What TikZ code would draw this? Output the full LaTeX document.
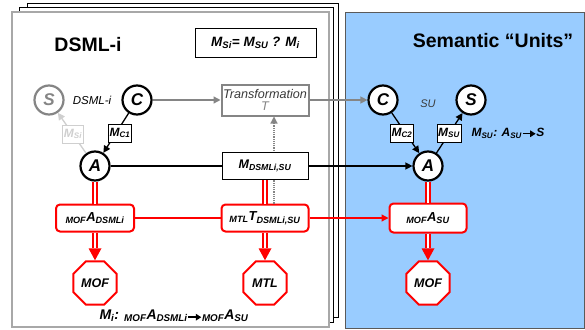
\documentclass[tikz,border=0pt]{standalone}
\usepackage{fontspec}
\setmainfont{Liberation Sans}
\usetikzlibrary{shapes.geometric,arrows.meta,calc}
\newcommand\sbx[1]{\textsubscript{#1}}
\newcommand\fs[1]{\fontsize{#1}{#1}\selectfont}
\newcommand\barrow{\tikz[baseline={(0,-2.5pt)}]\draw[line width=1.4pt,-{Triangle[length=5.5pt,width=6.5pt]}] (0,0) -- (13pt,0);}
\definecolor{pageg}{HTML}{A8A8A8}
\definecolor{arrg}{HTML}{858585}
\definecolor{lightg}{HTML}{CFCFCF}
\definecolor{bluef}{HTML}{99CCFF}
\definecolor{bluee}{HTML}{5A5A5A}
\definecolor{transtxt}{HTML}{3A3A3A}
\begin{document}
\begin{tikzpicture}[x=1pt,y=-1pt,
  circ/.style={circle, draw=black, line width=2.2pt, fill=white, minimum size=29pt, inner sep=0pt, font=\fs{17}\bfseries\itshape},
  gcirc/.style={circ, draw=arrg, text=arrg},
  mbox/.style={draw=black, line width=0.8pt, fill=white, inner sep=1.2pt, minimum height=18pt, font=\fs{12}\bfseries\itshape},
  redbox/.style={draw=red, line width=2pt, rounded corners=4pt, fill=white, minimum height=27pt, font=\fs{13}\bfseries\itshape},
  octo/.style={regular polygon, regular polygon sides=8, draw=red, line width=2pt, fill=white, minimum size=47pt, inner sep=0pt, font=\fs{12.5}\bfseries\itshape},
  tip/.style={-{Triangle[length=7pt,width=7pt]}},
  blk/.style={black, line width=1.3pt},
  gry/.style={arrg, line width=1.3pt},
  dbl/.style={draw=red, double=white, line width=1.8pt, double distance=1.6pt},
  redthick/.style={red, line width=5.2pt, -{Triangle[length=12pt,width=13pt,line width=0pt]}},
  redinner/.style={white, line width=1.6pt, shorten >=12.5pt},
  lbl/.style={font=\fs{12}\bfseries\itshape}
]
\useasboundingbox (0,0) rectangle (585,329);
% pages
\draw[black, line width=0.8pt, fill=white] (27,3) rectangle (338,317);
\draw[black, line width=0.8pt, fill=white] (19,7) rectangle (333,322);
\draw[pageg, line width=1.5pt, fill=white] (12,12) rectangle (329,327);
\draw[bluee, line width=1pt, fill=bluef] (345,13) rectangle (584.5,328);
% titles
\node[font=\fs{19.5}\bfseries] (t1) at (88,45) {DSML-i};
\node[font=\fs{19.5}\bfseries] (t2) at (493,41) {Semantic “Units”};
\node[draw, line width=0.9pt, minimum width=121pt, minimum height=29pt, font=\fs{13.5}\bfseries\itshape] (f) at (255.5,43) {M\sbx{Si}= M\sbx{SU} ? M\sbx{i}};
% left circles
\node[gcirc] (S1) at (49,100) {S};
\node[font=\fs{11.5}\itshape] (dl) at (92,100) {DSML-i};
\node[circ] (C1) at (137,100) {C};
\node[circ] (A1) at (95,166) {A};
% right circles
\node[circ] (C2) at (383,100) {C};
\node[circ] (S2) at (471,100) {S};
\node[font=\fs{11}\itshape, text=transtxt] (su) at (428,104) {SU};
\node[circ] (A2) at (428,166) {A};
% transformation
\node[draw=arrg, line width=2pt, fill=white, minimum width=87pt, minimum height=31pt, inner sep=0pt, align=center, font=\fs{12.6}\itshape, text=transtxt] (T) at (265,100) {Transformation\\[-1pt]\textcolor{arrg}{T}};
% red boxes
\node[redbox, minimum width=78pt] (R1) at (95,218) {\sbx{MOF}A\sbx{DSMLi}};
\node[redbox, minimum width=87pt] (R2) at (265,218) {\sbx{MTL}T\sbx{DSMLi,SU}};
\node[redbox, minimum width=77pt, minimum height=29pt] (R3) at (428,218) {\sbx{MOF}A\sbx{SU}};
% octagons
\node[octo] (O1) at (95,283) {MOF};
\node[octo] (O2) at (265,283) {MTL};
\node[octo] (O3) at (428,283) {MOF};
% dotted arrow (behind M box)
\draw[arrg, line width=1.2pt, densely dotted, -{Triangle[length=7pt,width=7pt]}] ([xshift=9pt]R2.north) -- ([xshift=9pt]T.south);
% M box
\node[draw=black, line width=0.8pt, fill=white, minimum width=86pt, minimum height=27pt, font=\fs{12.5}\bfseries\itshape] (M) at (265,166) {M\sbx{DSMLi,SU}};
% gray arrows
\draw[gry, tip] (C1) -- (T);
\draw[gry, tip] (T) -- (C2);
% left diagonal arrows
\draw[lightg, line width=1.3pt, tip] (A1) -- (S1);
\node[draw=lightg, line width=0.8pt, fill=white, inner sep=1.2pt, minimum height=18pt, text=lightg, font=\fs{12}\bfseries\itshape] (MSi) at (73,134) {M\sbx{Si}};
\draw[blk, tip] (C1) -- (A1);
\node[mbox] (MC1) at (120,133) {M\sbx{C1}};
% right diagonal arrows
\draw[blk, tip] (C2) -- (A2);
\node[mbox] (MC2) at (402,133) {M\sbx{C2}};
\draw[blk, tip] (A2) -- (S2);
\node[mbox] (MSU) at (449,133) {M\sbx{SU}};
\node[lbl] (msul) at (508,133) {M\sbx{SU}: A\sbx{SU}\barrow S};
% black horizontal
\draw[blk] (A1) -- (M);
\draw[blk, tip] (M) -- (A2);
% red double lines
\draw[dbl] (A1) -- (R1);
\draw[dbl] (M) -- (R2);
\draw[dbl] (A2) -- (R3);
% red arrows to octagons
\draw[redthick] (R1) -- (O1);
\draw[redinner] (R1) -- (O1);
\draw[redthick] (R2) -- (O2);
\draw[redinner] (R2) -- (O2);
\draw[redthick] (R3) -- (O3);
\draw[redinner] (R3) -- (O3);
% red horizontal
\draw[red, line width=1.3pt] (R1) -- (R2);
\draw[red, line width=1.3pt, tip] (R2) -- (R3);
% bottom label
\node[font=\fs{14}\bfseries\itshape] (bl) at (174,316) {M\sbx{i}: \sbx{MOF}A\sbx{DSMLi}\barrow\sbx{MOF}A\sbx{SU}};
\end{tikzpicture}
\end{document}
